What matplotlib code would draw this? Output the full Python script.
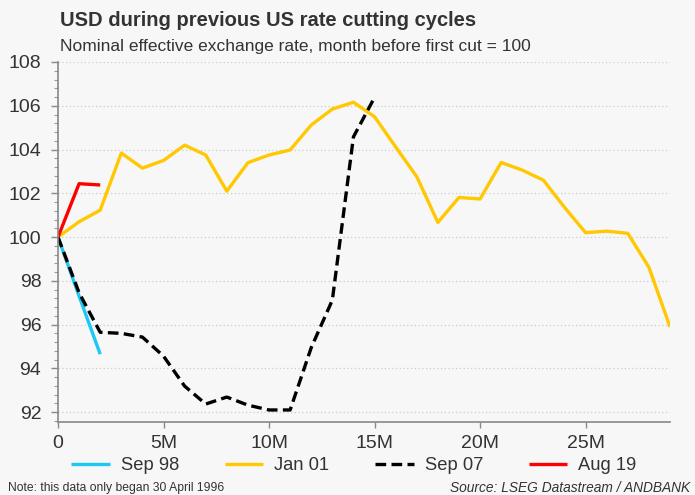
import matplotlib
matplotlib.use("Agg")
import matplotlib.pyplot as plt
from matplotlib.ticker import MultipleLocator

plt.rcParams['font.family'] = ['Liberation Sans', 'DejaVu Sans']

# Data (months after month before first cut; index = 100)
sep98_m = [0, 1, 2]
sep98 = [100.0, 97.3, 94.65]

jan01_m = list(range(0, 30))
jan01 = [100.0, 100.7, 101.23, 103.84, 103.15, 103.5, 104.2, 103.75, 102.1, 103.4,
         103.75, 103.98, 105.12, 105.85, 106.16, 105.5, 104.12, 102.76, 100.67, 101.81,
         101.74, 103.41, 103.06, 102.6, 101.36, 100.2, 100.27, 100.17, 98.62, 95.9]

sep07_m = list(range(0, 16))
sep07 = [100.0, 97.45, 95.65, 95.6, 95.43, 94.56, 93.19, 92.37, 92.69, 92.32,
         92.1, 92.1, 94.95, 97.12, 104.58, 106.38]

aug19_m = [0, 1, 2]
aug19 = [100.0, 102.44, 102.38]

xticks = [0, 5, 10, 15, 20, 25]
xtick_labels = ['0', '5M', '10M', '15M', '20M', '25M']
yticks = [92, 94, 96, 98, 100, 102, 104, 106, 108]

bg = '#f7f7f7'
txt = '#333333'
fig = plt.figure(figsize=(6.95, 4.95), dpi=100, facecolor=bg)
ax = fig.add_axes([58/695, 1-422/495, (670-58)/695, (422-62)/495])
ax.set_facecolor(bg)

ax.plot(sep98_m, sep98, color='#1EC8F5', lw=2.4, label='Sep 98', solid_capstyle='butt')
ax.plot(jan01_m, jan01, color='#FFC800', lw=2.4, label='Jan 01', solid_capstyle='butt')
ax.plot(sep07_m, sep07, color='black', lw=2.4, ls=(0, (3.2, 1.6)), label='Sep 07')
ax.plot(aug19_m, aug19, color='#FF0000', lw=2.4, label='Aug 19', solid_capstyle='butt')

ax.set_xlim(0, 29)
ax.set_ylim(91.55, 108)
ax.set_xticks(xticks)
ax.set_xticklabels(xtick_labels)
ax.set_yticks(yticks)
ax.yaxis.set_minor_locator(MultipleLocator(0.4))
ax.tick_params(axis='both', colors='#888888', labelcolor=txt, labelsize=14)
ax.tick_params(axis='y', which='major', length=5, width=1, pad=7)
ax.tick_params(axis='y', which='minor', length=3, width=0.8, colors='#999999')
ax.tick_params(axis='x', which='major', length=4, width=1, pad=5)
for s in ['top', 'right']:
    ax.spines[s].set_visible(False)
for s in ['left', 'bottom']:
    ax.spines[s].set_color('#888888')
    ax.spines[s].set_linewidth(1.2)
ax.grid(axis='y', color='#cccccc', ls=(0, (1, 2)), lw=0.9)
ax.set_axisbelow(True)

fig.text(60/695, 1-20/495, 'USD during previous US rate cutting cycles', fontsize=14.5,
         fontweight='bold', color=txt, va='center', ha='left')
fig.text(60/695, 1-46/495, 'Nominal effective exchange rate, month before first cut = 100',
         fontsize=12.5, color=txt, va='center', ha='left')

fig.legend(loc='center', bbox_to_anchor=(354/695, 1-466/495), ncol=4, frameon=False,
           fontsize=13.2, handlelength=2.1, columnspacing=2.5, handletextpad=0.6,
           labelcolor=txt)

fig.text(8/695, 1-488/495, 'Note: this data only began 30 April 1996', fontsize=8.7,
         color=txt, va='center', ha='left')
fig.text(690/695, 1-488/495, 'Source: LSEG Datastream / ANDBANK', fontsize=9.9,
         style='italic', color=txt, va='center', ha='right')

fig.savefig('out.png', dpi=100, facecolor=bg)
